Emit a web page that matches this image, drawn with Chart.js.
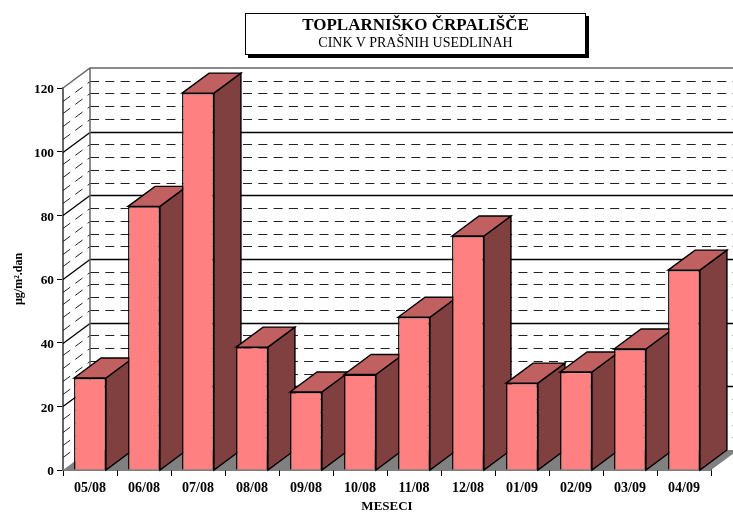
<!DOCTYPE html>
<html>
<head>
<meta charset="utf-8">
<script src="https://cdn.jsdelivr.net/npm/chart.js@4/dist/chart.umd.min.js"></script>
<style>
    html, body { margin: 0; padding: 0; background: #fff; }
    #wrap { position: relative; width: 733px; height: 514px; overflow: hidden; }
    #title-box {
        position: absolute; left: 245px; top: 13px; width: 339px; height: 40px;
        border: 1px solid #000; background: #fff; box-shadow: 3px 3px 0 #000;
        text-align: center; font-family: "Liberation Serif", serif; color: #000;
    }
    #title-box .main { font-size: 17px; font-weight: bold; line-height: 18px; margin-top: 2px; }
    #title-box .sub { font-size: 14px; line-height: 16px; margin-top: 1px; }
</style>
</head>
<body>
<div id="wrap">
    <canvas id="chart" width="733" height="514"></canvas>
    <div id="title-box">
        <div class="main">TOPLARNIŠKO ČRPALIŠČE</div>
        <div class="sub">CINK V PRAŠNIH USEDLINAH</div>
    </div>
</div>
<script>
const months = ['05/08', '06/08', '07/08', '08/08', '09/08', '10/08', '11/08', '12/08', '01/09', '02/09', '03/09', '04/09'];
const zinc = [28.9, 82.8, 118.4, 38.6, 24.5, 30, 48, 73.5, 27.3, 30.8, 38, 62.8];

const depthX = 27;
const depthY = 20;
const minorStep = 4;
const majorStep = 20;
const fontName = '"Liberation Serif", serif';

function poly(ctx, pts, fill, stroke) {
    ctx.beginPath();
    ctx.moveTo(pts[0][0], pts[0][1]);
    for (let i = 1; i < pts.length; i++) ctx.lineTo(pts[i][0], pts[i][1]);
    ctx.closePath();
    ctx.fillStyle = fill;
    ctx.fill();
    if (stroke) {
        ctx.strokeStyle = stroke;
        ctx.lineWidth = 1.4;
        ctx.stroke();
    }
}

// Back wall, side wall and floor, behind the bars
const wallsPlugin = {
    id: 'walls',
    beforeDraw(chart) {
        // the serif digits sit high on a middle baseline, push them down to the tick
        chart.scales.y.getLabelItems().forEach(item => { item.options.translation[1] += 2; });
    },
    beforeDatasetsDraw(chart) {
        const ctx = chart.ctx;
        const yScale = chart.scales.y;
        const left = chart.chartArea.left;
        const right = chart.chartArea.right;
        const y0 = yScale.getPixelForValue(0);
        const yTop = yScale.getPixelForValue(yScale.max);
        ctx.save();

        poly(ctx, [[left, y0], [right, y0], [right + depthX, y0 - depthY], [left + depthX, y0 - depthY]], '#808080');

        for (let v = minorStep; v < yScale.max; v += minorStep) {
            const y = Math.round(yScale.getPixelForValue(v)) + 0.5;
            const major = v % majorStep === 0;
            ctx.strokeStyle = major ? '#000' : '#222';
            ctx.lineWidth = major ? 1.3 : 1;
            ctx.setLineDash(major ? [] : [9, 6.3]);
            ctx.beginPath();
            ctx.moveTo(left + depthX, y - depthY);
            ctx.lineTo(right + depthX, y - depthY);
            ctx.stroke();
            ctx.beginPath();
            ctx.moveTo(left, y);
            ctx.lineTo(left + depthX, y - depthY);
            ctx.stroke();
        }
        ctx.setLineDash([]);

        ctx.strokeStyle = '#666';
        ctx.lineWidth = 1.5;
        ctx.beginPath();
        ctx.moveTo(left, yTop);
        ctx.lineTo(left + depthX, yTop - depthY);
        ctx.lineTo(right + depthX, yTop - depthY);
        ctx.moveTo(left + depthX, yTop - depthY);
        ctx.lineTo(left + depthX, y0 - depthY);
        ctx.stroke();

        // side and top faces of the bars
        chart.getDatasetMeta(0).data.forEach(bar => {
            const hw = bar.width / 2;
            const l = bar.x - hw;
            const r = bar.x + hw;
            poly(ctx, [[r, bar.y], [r + depthX, bar.y - depthY], [r + depthX, y0 - depthY], [r, y0]], '#804040', '#000');
            poly(ctx, [[l, bar.y], [l + depthX, bar.y - depthY], [r + depthX, bar.y - depthY], [r, bar.y]], '#c06060', '#000');
        });
        ctx.restore();
    }
};

new Chart(document.getElementById('chart'), {
    type: 'bar',
    data: {
        labels: months,
        datasets: [{
            data: zinc,
            backgroundColor: '#ff8080',
            borderColor: '#000',
            borderWidth: 1.4,
            barPercentage: 1,
            categoryPercentage: 0.59
        }]
    },
    options: {
        responsive: false,
        animation: false,
        layout: { padding: { top: 88, right: 22, left: 0, bottom: 0 } },
        plugins: { legend: { display: false }, tooltip: { enabled: false } },
        scales: {
            x: {
                afterFit(scale) { scale.height = 44; },
                grid: { offset: true, drawOnChartArea: false, color: '#000', tickLength: 6 },
                border: { color: '#000', width: 1.5 },
                ticks: { color: '#000', maxRotation: 0, padding: 4, font: { family: fontName, size: 14, weight: 'bold' } },
                title: {
                    display: true, text: 'MESECI', color: '#000', padding: { top: 0, bottom: 0 },
                    font: { family: fontName, size: 13, weight: 'bold' }
                }
            },
            y: {
                min: 0,
                max: 120,
                afterFit(scale) { scale.width = 63; },
                grid: { drawOnChartArea: false, color: '#000', tickLength: 6 },
                border: { color: '#666', width: 2 },
                ticks: { stepSize: majorStep, color: '#000', padding: 3, font: { family: fontName, size: 13.3, weight: 'bold' } },
                title: {
                    display: true, text: 'µg/m².dan', color: '#000', padding: { top: 12, bottom: 0 },
                    font: { family: fontName, size: 12, weight: 'bold' }
                }
            }
        }
    },
    plugins: [wallsPlugin]
});
</script>
</body>
</html>
